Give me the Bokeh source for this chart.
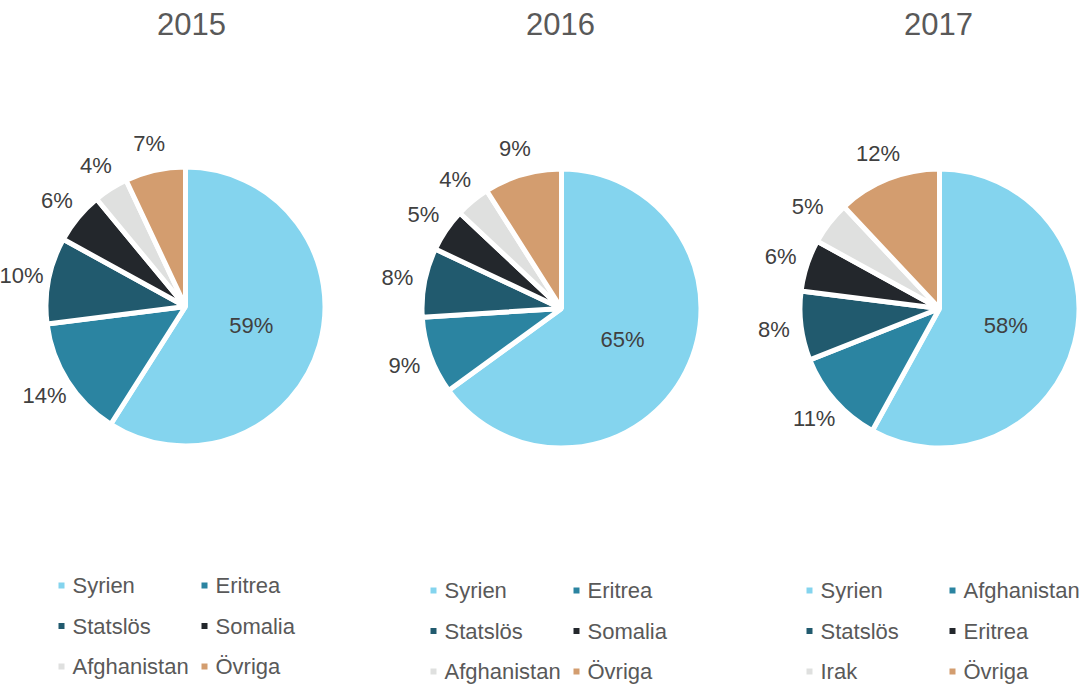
import numpy as np
from bokeh.plotting import figure
from bokeh.models import Range1d, ColumnDataSource
from bokeh.core.properties import value
from bokeh.embed import file_html
from bokeh.resources import INLINE

# ---------------- data ----------------
years = ["2015", "2016", "2017"]
cats_2015 = ["Syrien", "Eritrea", "Statslös", "Somalia", "Afghanistan", "Övriga"]
vals_2015 = [59, 14, 10, 6, 4, 7]
cats_2016 = ["Syrien", "Eritrea", "Statslös", "Somalia", "Afghanistan", "Övriga"]
vals_2016 = [65, 9, 8, 5, 4, 9]
cats_2017 = ["Syrien", "Afghanistan", "Statslös", "Eritrea", "Irak", "Övriga"]
vals_2017 = [58, 11, 8, 6, 5, 12]
slice_colors = ["#84D4EE", "#2B84A1", "#215A6E", "#23272C", "#DFE0DF", "#D39D6F"]

all_cats = [cats_2015, cats_2016, cats_2017]
all_vals = [vals_2015, vals_2016, vals_2017]

# ---------------- layout ----------------
W, H = 1091, 686
FONT = "Liberation Sans"
pie_cx = [185, 561, 939]
pie_cy = [380, 378, 378]
R = 137
title_x = [191, 560, 938]
title_y = 663
leg_x0 = [61, 433, 809]
leg_y0 = [101, 96, 96]
leg_col_dx = 143
leg_row_dy = 40.5
leg_text_dx = 11

p = figure(width=W, height=H, x_range=Range1d(0, W), y_range=Range1d(0, H),
           output_backend="svg", toolbar_location=None, min_border=0)
p.axis.visible = False
p.grid.visible = False
p.outline_line_color = None
p.background_fill_color = "white"

for k in range(3):
    vals = np.array(all_vals[k], dtype=float)
    frac = vals / vals.sum()
    cum = np.concatenate([[0], np.cumsum(frac)])
    start = np.pi / 2 - 2 * np.pi * cum[:-1]
    end = np.pi / 2 - 2 * np.pi * cum[1:]
    src = ColumnDataSource(dict(start=start, end=end, color=slice_colors))
    p.wedge(x=pie_cx[k], y=pie_cy[k], radius=R + 2.5, start_angle="start",
            end_angle="end", direction="clock", fill_color="color",
            line_color="white", line_width=5, source=src)

    mid = (start + end) / 2
    d = np.where(np.arange(len(vals)) == 0, 0.5 * R, R + 30)
    lx = pie_cx[k] + d * np.cos(mid)
    ly = pie_cy[k] + d * np.sin(mid)
    labels = [f"{int(v)}%" for v in all_vals[k]]
    p.text(x=lx, y=ly, text=labels, text_font=value(FONT), text_font_size="22px",
           text_color="#404040", text_align="center", text_baseline="middle")

    p.text(x=[title_x[k]], y=[title_y], text=[years[k]], text_font=value(FONT),
           text_font_size="31px", text_color="#595959", text_align="center",
           text_baseline="middle")

    n = len(all_cats[k])
    col = np.arange(n) % 2
    row = np.arange(n) // 2
    mx = leg_x0[k] + col * leg_col_dx
    my = leg_y0[k] - row * leg_row_dy
    p.scatter(x=mx, y=my, marker="square", size=6, fill_color=slice_colors,
              line_color=None)
    p.text(x=mx + leg_text_dx, y=my, text=all_cats[k], text_font=value(FONT),
           text_font_size="22px", text_color="#595959", text_align="left",
           text_baseline="middle")

open("out.html", "w").write(file_html(p, INLINE))
